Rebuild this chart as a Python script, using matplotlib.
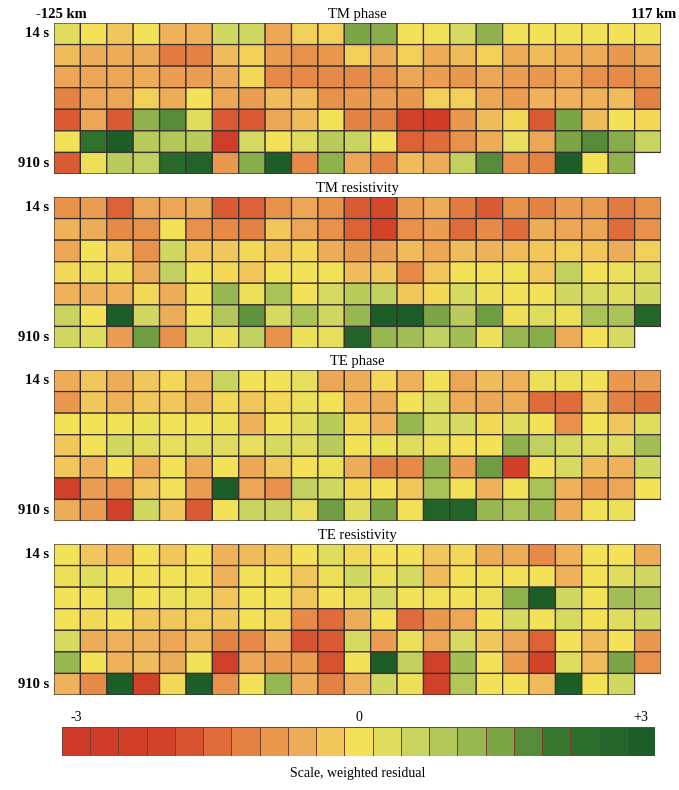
import numpy as np
import matplotlib
matplotlib.use("Agg")
import matplotlib.pyplot as plt
from matplotlib.colors import LinearSegmentedColormap

plt.rcParams['font.family'] = ['Liberation Serif', 'DejaVu Serif']

nan = np.nan

# weighted residuals, rows = periods 14 s ... 910 s, cols = stations -125 km ... 117 km
tm_phase = [
    [0.3, 0, -0.3, 0, -0.5, -0.5, 0.5, 0.5, -0.7, -0.2, -0.2, 1.5, 1.4, 0, 0, 0.4, 1.3, 0, 0, 0, 0, 0, 0],
    [-0.4, -0.6, -0.6, -0.6, -1.3, -1.2, -0.4, -0.2, -0.8, -1.0, -0.9, -0.2, -0.6, -0.2, -0.6, -0.4, -0.2, -0.6, -0.4, -0.6, -0.6, -0.9, -0.7],
    [-0.7, -0.7, -0.7, -0.6, -0.8, -0.8, -0.6, -0.1, -1.1, -1.1, -1.1, -1.1, -1.0, -0.7, -0.8, -0.9, -0.7, -0.8, -0.9, -0.7, -1.0, -1.1, -1.0],
    [-1.2, -0.7, -0.7, -0.2, -0.6, 0, -0.7, -0.8, -0.4, -0.4, -1.0, -0.9, -0.8, -0.9, -0.2, -0.2, -0.7, -0.8, -0.5, -0.5, -0.5, -0.4, -1.2],
    [-1.7, -0.7, -1.7, 1.3, 1.8, 0.3, -1.7, -1.7, -0.7, -0.4, 0, -1.2, -1.2, -2.3, -2.8, -0.9, -0.4, -0.1, -1.7, 1.5, -0.4, 0, -0.1],
    [0, 2.3, 3.0, 0.8, 0.9, 0.8, -2.6, 0.4, 0, 0.3, 0.8, 0.6, 0, -1.6, -1.5, -1.0, -0.6, 0.2, -0.7, 1.5, 1.8, 1.4, 0.6],
    [-1.7, 0.1, 0.8, 0.7, 2.6, 2.8, -0.9, 1.4, 3.0, -1.1, 1.3, -0.7, -1.2, -0.4, -0.6, 0.7, 1.8, -1.0, -1.2, 3.0, 0, 1.3, nan],
]

tm_res = [
    [-1.0, -0.8, -1.6, -0.7, -0.7, -0.6, -1.7, -1.6, -1.0, -0.7, -1.0, -1.7, -1.9, -0.8, -0.6, -1.3, -1.7, -1.0, -1.2, -0.8, -0.8, -1.3, -1.0],
    [-0.5, -0.6, -1.1, -1.0, 0, -1.0, -1.1, -1.2, -0.3, -0.7, -1.0, -1.6, -2.0, -1.0, -0.8, -1.5, -1.1, -1.5, -0.6, -0.7, -0.7, -1.5, -1.0],
    [-0.7, 0, -0.3, -1.0, 0.5, -0.3, -0.3, -0.1, -0.3, -0.1, -0.6, -0.9, -0.8, -0.4, -0.7, -0.4, -0.5, -0.4, -0.3, -0.2, -0.3, -0.6, -0.2],
    [-0.1, 0.1, 0.1, -0.6, 0.7, 0, -0.1, -0.3, 0, 0, 0, -0.4, -0.3, -1.1, -0.3, 0, 0, 0, -0.3, 0.7, 0, 0.1, 0.3],
    [-0.5, -0.5, -0.5, -0.1, -0.6, 0, 1.2, 0.1, 1.0, 0, 0.4, 0.8, 0.7, -0.3, -0.1, 0.4, 0.1, 0, 0, 0.5, 0.4, 0.3, 0.5],
    [0.6, 0, 3.0, 0.5, -0.6, 0, 0.9, 1.7, 0.4, 1.0, 0.5, 1.2, 3.0, 3.0, 1.5, 0.8, 1.6, 0.1, 0.3, 0.1, 1.0, 1.0, 2.7],
    [0.5, 0.3, -0.8, 1.6, -1.0, 0.4, 0.1, 0.7, -1.0, 0.1, 0.2, 2.8, 1.2, 1.1, 0.7, 1.1, 0.1, 1.2, 1.4, -0.6, 0, 0.4, nan],
]

te_phase = [
    [-0.6, -0.3, -0.6, -0.3, -0.1, -0.4, 0.6, 0, 0, 0.2, -0.7, -0.6, -0.1, -0.5, 0, -0.7, -0.4, -0.5, 0.1, 0.1, 0, -0.9, -0.8],
    [-0.9, -0.3, -0.5, -0.3, -0.3, -0.5, -0.1, -0.3, -0.1, 0.1, 0, -0.5, -0.6, 0, 0.3, -0.6, -0.7, -0.6, -1.5, -1.5, -0.3, -1.2, -1.4],
    [0, 0, 0, 0.1, 0, 0, 0.1, -0.5, 0, 0.3, 0.8, -0.1, -0.5, 1.2, 0.4, 0.4, -0.1, 0.3, 0, -1.0, 0, -0.3, 0.3],
    [-0.3, 0, 0.5, 0.3, 0.2, 0.3, 0.3, 0.2, 0.4, 0.3, 0.8, 0, 0.1, 0.3, 0.1, 0, 0, 1.3, 0.7, 0.4, 0.3, 0.3, 1.1],
    [-0.3, -0.5, 0, -0.6, 0, -0.6, 0, -0.7, -0.3, 0, 0.1, -0.6, -1.2, -1.1, 1.3, -0.8, 1.6, -2.4, 0, 0.4, -0.4, -0.5, 0.5],
    [-2.3, -0.8, -1.0, -0.3, 0, -0.8, 3.0, -0.7, -1.0, 0.7, 0.5, -0.1, 0, -0.3, 1.0, 0, -0.5, 0, 1.0, -0.5, -0.8, -0.7, 0],
    [-0.6, -0.8, -2.2, 0.5, -0.3, -1.7, 0, 0.6, 0.6, 0.2, 1.6, 0.3, 1.5, 0, 2.8, 2.8, 1.2, 1.0, 1.2, -0.6, 0, 0.1, nan],
]

te_res = [
    [0, -0.3, -0.5, 0, -0.3, 0, -0.5, -0.4, -0.3, 0, 0.3, -0.1, 0, 0, -0.3, -0.1, -0.6, -0.6, -1.1, -0.5, 0, 0, -0.6],
    [0.1, 0.3, 0, 0, 0, 0, -0.5, 0, 0, -0.3, 0.1, 0.5, 0.1, 0.4, -0.4, 0, 0, 0, 0, -0.5, 0, 0.3, 0.5],
    [0, 0, 0.6, 0, 0.1, 0.1, -0.3, 0, 0, -0.3, 0, 0.1, 0.4, 0, 0, 0, 0.1, 1.3, 3.0, 0.5, 0, 1.1, 1.0],
    [0, -0.1, 0, -0.3, -0.3, -0.2, -0.3, 0, -0.1, -1.1, -1.5, -0.6, 0, -1.5, -0.9, -0.7, 0, 0.4, 0, 0.4, 0, 0.3, 0.5],
    [0.4, -0.6, -0.5, -0.5, -0.7, -0.4, -1.2, -1.1, -0.5, -1.8, -1.7, 0.4, -0.8, 0.1, -0.7, 0.4, -0.3, -0.7, -1.6, 0, -0.4, 0, -0.9],
    [1.2, 0, -0.5, -0.4, -0.6, 0, -2.3, -0.7, -0.8, -0.8, -1.8, 0, 3.0, 0.7, -2.3, 1.1, 0, -0.8, -2.0, 0.3, -0.4, 1.5, -1.0],
    [-0.5, -1.1, 3.0, -2.2, -0.1, 3.0, -1.0, 0, 1.2, -0.6, -1.2, -0.5, 0.5, 0.1, -2.3, 0.9, 0, 0, -0.4, 3.0, 0, 0.5, nan],
]

panels = [tm_phase, tm_res, te_phase, te_res]
titles = ["TM phase", "TM resistivity", "TE phase", "TE resistivity"]
scale_values = np.linspace(-3, 3, 21)

# red -> yellow -> green, saturating near the ends like the printed scale
cmap = LinearSegmentedColormap.from_list("resid", [
    (0.00, "#cf3a28"),
    (0.17, "#d2432a"),
    (0.25, "#df6c3a"),
    (0.33, "#e8904a"),
    (0.42, "#efb45c"),
    (0.50, "#f4e257"),
    (0.58, "#d2d962"),
    (0.67, "#a8c257"),
    (0.75, "#7ea746"),
    (0.83, "#3c7b31"),
    (1.00, "#1c5d28"),
])

W, H = 679, 790
fig = plt.figure(figsize=(W / 100, H / 100), dpi=100)


def px_axes(x0, y0, x1, y1):
    return fig.add_axes([x0 / W, 1 - y1 / H, (x1 - x0) / W, (y1 - y0) / H])


tops = [23, 197, 370, 544]
for data, title, top in zip(panels, titles, tops):
    arr = np.ma.masked_invalid(np.array(data, dtype=float))
    ax = px_axes(54, top, 661, top + 151)
    # pcolor drops masked cells entirely, so the missing corner cell has no outline
    ax.pcolor(arr, cmap=cmap, vmin=-3, vmax=3, edgecolors="#3a3030", linewidth=0.9)
    ax.set_xlim(0, arr.shape[1])
    ax.set_ylim(arr.shape[0], 0)
    ax.axis("off")
    ax.text(0.5, 1.015, title, transform=ax.transAxes, ha="center", va="bottom", fontsize=10.5)
    ax.text(-0.008, 0.5, "14 s", transform=ax.get_yaxis_transform(), ha="right", va="center",
            fontsize=10.5, fontweight="bold")
    ax.text(-0.008, 6.5, "910 s", transform=ax.get_yaxis_transform(), ha="right", va="center",
            fontsize=10.5, fontweight="bold")

fig.text(36 / W, 1 - 15 / H, "-125 km", ha="left", va="center", fontsize=10.5, fontweight="bold")
fig.text(676 / W, 1 - 15 / H, "117 km", ha="right", va="center", fontsize=10.5, fontweight="bold")

# colour scale
cax = px_axes(62, 727, 655, 756)
cax.pcolormesh(scale_values[np.newaxis, :], cmap=cmap, vmin=-3, vmax=3,
               edgecolors="#7a4030", linewidth=0.5)
cax.set_xlim(0, len(scale_values))
cax.axis("off")
for val, lab in [(-3, "-3"), (0, "0"), (3, "+3")]:
    i = int(np.argmin(np.abs(scale_values - val)))
    cax.text(i + 0.5, 1.12, lab, ha="center", va="bottom", fontsize=10,
             transform=cax.get_xaxis_transform())
fig.text(358 / W, 1 - 774 / H, "Scale, weighted residual", ha="center", va="center", fontsize=10)

fig.savefig("out.png", dpi=100)
